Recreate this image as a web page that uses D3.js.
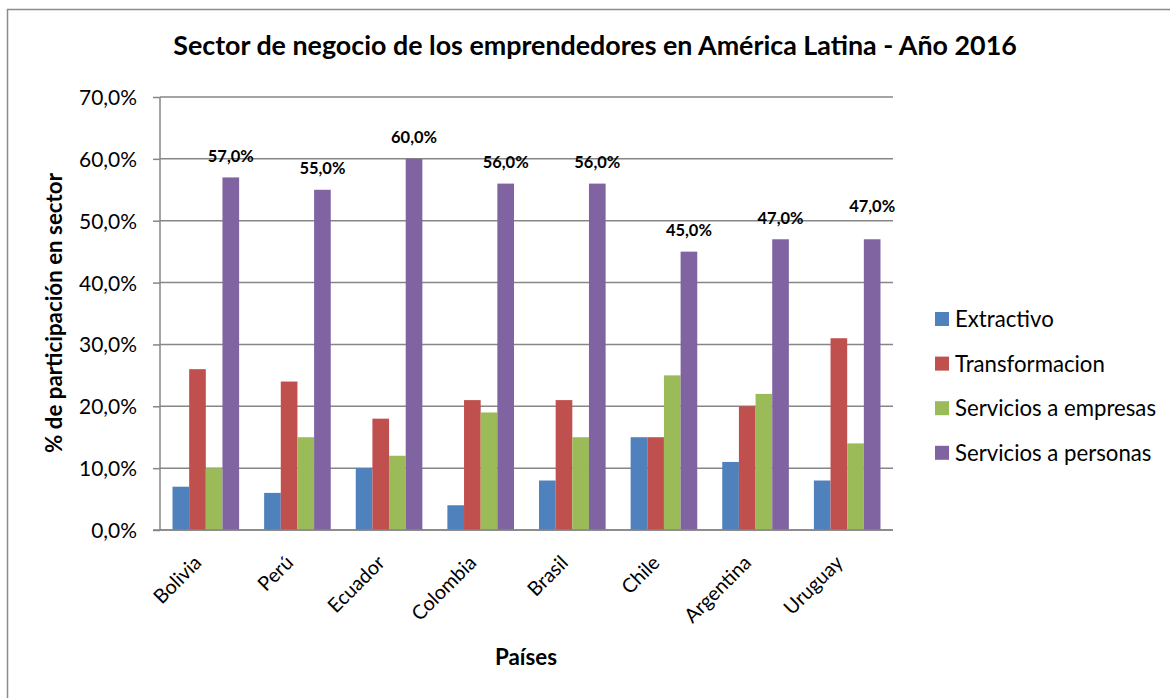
<!DOCTYPE html>
<html lang="es">
<head>
<meta charset="utf-8">
<title>Sector de negocio de los emprendedores</title>
<script src="https://d3js.org/d3.v7.min.js"></script>
<style>
	body { margin: 0; background: #fff; }
	svg text { font-family: Lato, "Open Sans", sans-serif; fill: #000; }
</style>
</head>
<body>
<div id="chart"></div>
<script>
	// data
	const paises = ["Bolivia", "Perú", "Ecuador", "Colombia", "Brasil", "Chile", "Argentina", "Uruguay"];
	const sectores = ["Extractivo", "Transformacion", "Servicios a empresas", "Servicios a personas"];
	const extractivo = [7, 6, 10, 4, 8, 15, 11, 8];
	const transformacion = [26, 24, 18, 21, 21, 15, 20, 31];
	const serviciosEmpresas = [10, 15, 12, 19, 15, 25, 22, 14];
	const serviciosPersonas = [57, 55, 60, 56, 56, 45, 47, 47];
	const yTicks = [0, 10, 20, 30, 40, 50, 60, 70];
	const colores = ["#4F81BD", "#C0504D", "#9BBB59", "#8064A2"];

	const series = [extractivo, transformacion, serviciosEmpresas, serviciosPersonas];
	const fmt = v => d3.format(".1f")(v).replace(".", ",") + "%";

	const W = 1170, H = 698;
	const plot = { left: 160, right: 893, top: 97, bottom: 530 };

	const svg = d3.select("#chart").append("svg")
		.attr("width", W)
		.attr("height", H);

	// the original used Calibri; pick a font size that gives the same text width
	function fitSize(sample, targetWidth, weight) {
		const t = svg.append("text")
			.style("font-size", "20px")
			.style("font-weight", weight || "normal")
			.text(sample);
		const w = t.node().getComputedTextLength();
		t.remove();
		return (20 * targetWidth / w).toFixed(2) + "px";
	}
	const sTitle = fitSize("Sector de negocio de los emprendedores en América Latina - Año 2016", 844, "bold");
	const sTick = fitSize("70,0%", 58);
	const sLabel = fitSize("57,0%", 46, "bold");
	const sLegend = fitSize("Servicios a empresas", 201);
	const sYTitle = fitSize("% de participación en sector", 280, "bold");
	const sXTitle = fitSize("Países", 62, "bold");
	const sCat = fitSize("Argentina", 85);

	// outer chart border (runs off the right/bottom edge)
	svg.append("rect")
		.attr("x", 7.5).attr("y", 9.5)
		.attr("width", W + 10).attr("height", H + 10)
		.attr("fill", "none")
		.attr("stroke", "#8c8c8c")
		.attr("stroke-width", 1.5);

	const x0 = d3.scaleBand()
		.domain(paises)
		.range([plot.left, plot.right])
		.paddingInner(0.273)
		.paddingOuter(0.1365);

	const x1 = d3.scaleBand()
		.domain(d3.range(sectores.length))
		.range([0, x0.bandwidth()]);

	const y = d3.scaleLinear()
		.domain([0, 70])
		.range([plot.bottom, plot.top]);

	// y axis ticks + labels
	const yAxis = svg.append("g")
		.attr("transform", "translate(" + plot.left + ",0)")
		.call(d3.axisLeft(y).tickValues(yTicks).tickFormat(fmt)
			.tickSize(7).tickSizeOuter(0));
	yAxis.select(".domain").remove();
	yAxis.selectAll(".tick line").attr("stroke", "#868686").attr("stroke-width", 1.5);
	yAxis.selectAll(".tick text")
		.attr("x", -23)
		.attr("dy", "0.36em")
		.style("font-size", sTick);

	// gridlines
	svg.append("g")
		.selectAll("line")
		.data(yTicks)
		.join("line")
		.attr("x1", plot.left).attr("x2", plot.right)
		.attr("y1", d => y(d)).attr("y2", d => y(d))
		.attr("stroke", "#868686")
		.attr("stroke-width", 1.5);

	svg.append("line")
		.attr("x1", plot.left).attr("x2", plot.left)
		.attr("y1", plot.top).attr("y2", plot.bottom)
		.attr("stroke", "#868686")
		.attr("stroke-width", 1.5);

	// bars
	const groups = svg.append("g")
		.selectAll("g")
		.data(paises)
		.join("g")
		.attr("transform", d => "translate(" + x0(d) + ",0)");

	groups.selectAll("rect")
		.data((d, i) => series.map((s, k) => ({ k: k, v: s[i] })))
		.join("rect")
		.attr("x", d => x1(d.k))
		.attr("y", d => y(d.v))
		.attr("width", x1.bandwidth())
		.attr("height", d => y(0) - y(d.v))
		.attr("fill", d => colores[d.k]);

	// x axis line drawn over the bars
	svg.append("line")
		.attr("x1", plot.left - 7).attr("x2", plot.right)
		.attr("y1", plot.bottom).attr("y2", plot.bottom)
		.attr("stroke", "#868686")
		.attr("stroke-width", 1.5);

	// data labels on the last series (Uruguay label was moved up in the original)
	const labelNudge = { "Uruguay": -11.5 };
	svg.append("g")
		.selectAll("text")
		.data(paises)
		.join("text")
		.attr("x", d => x0(d) + x1(3) + x1.bandwidth() / 2)
		.attr("y", (d, i) => y(serviciosPersonas[i]) - 15.5 + (labelNudge[d] || 0))
		.attr("text-anchor", "middle")
		.style("font-size", sLabel)
		.style("font-weight", "bold")
		.text((d, i) => fmt(serviciosPersonas[i]));

	// category labels
	svg.append("g")
		.selectAll("text")
		.data(paises)
		.join("text")
		.attr("transform", d => "translate(" + (x0(d) + x0.bandwidth() / 2 - 3) + ",564) rotate(-45)")
		.attr("text-anchor", "end")
		.style("font-size", sCat)
		.text(d => d);

	// titles
	svg.append("text")
		.attr("x", 595).attr("y", 55)
		.attr("text-anchor", "middle")
		.style("font-size", sTitle)
		.style("font-weight", "bold")
		.text("Sector de negocio de los emprendedores en América Latina - Año 2016");

	svg.append("text")
		.attr("transform", "translate(62,313) rotate(-90)")
		.attr("text-anchor", "middle")
		.style("font-size", sYTitle)
		.style("font-weight", "bold")
		.text("% de participación en sector");

	svg.append("text")
		.attr("x", 526).attr("y", 665)
		.attr("text-anchor", "middle")
		.style("font-size", sXTitle)
		.style("font-weight", "bold")
		.text("Países");

	// legend
	const legend = svg.append("g")
		.selectAll("g")
		.data(sectores)
		.join("g")
		.attr("transform", (d, i) => "translate(935," + (319 + i * 44.6) + ")");

	legend.append("rect")
		.attr("x", 0).attr("y", -7)
		.attr("width", 14).attr("height", 14)
		.attr("fill", (d, i) => colores[i]);

	legend.append("text")
		.attr("x", 20)
		.attr("dy", "0.36em")
		.style("font-size", sLegend)
		.text(d => d);
</script>
</body>
</html>
